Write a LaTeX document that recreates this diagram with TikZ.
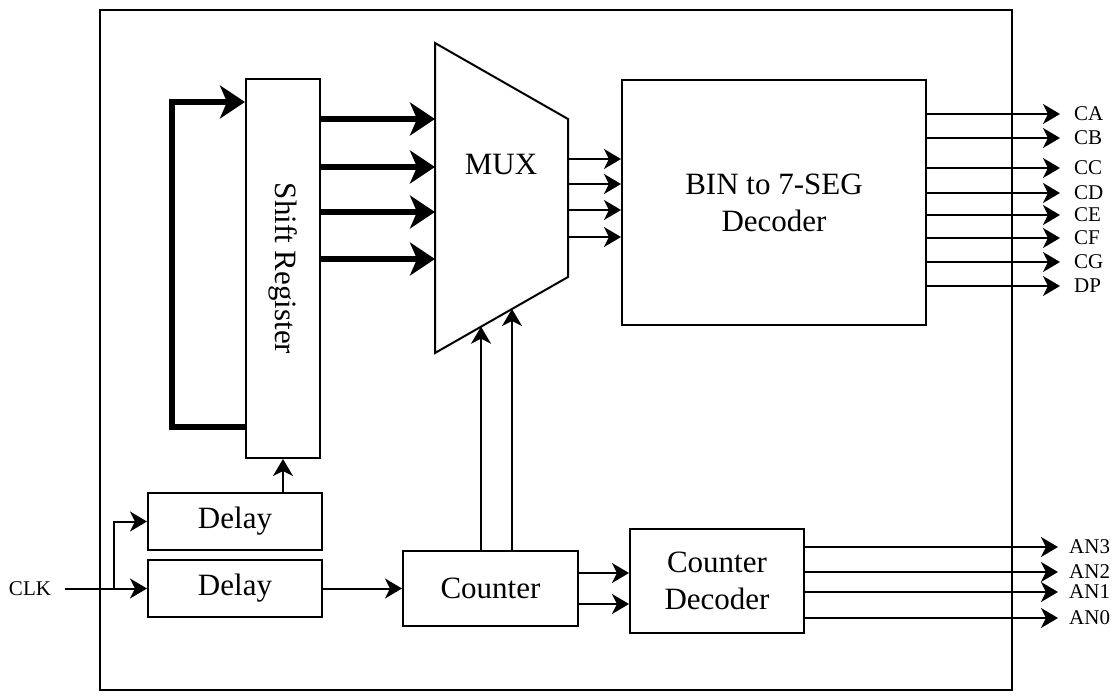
\documentclass[tikz,border=0pt]{standalone}
\usepackage{fontspec}
\setmainfont{Liberation Serif}
\usetikzlibrary{calc,arrows.meta}
\newcommand{\blkfont}{\fontsize{31}{37}\selectfont}
\newcommand{\lblfont}{\fontsize{21}{23}\selectfont}

\begin{document}
\begin{tikzpicture}[x=1pt,y=-1pt,
  blk/.style={draw,line width=2pt,inner sep=0pt,align=center,font=\blkfont},
  sig/.style={line width=2pt,-{Stealth[length=17pt,width=20pt,inset=5pt]}},
  bus/.style={line width=5.5pt,-{Stealth[length=25pt,width=33pt,inset=7pt]}},
  lbl/.style={anchor=west,inner xsep=14pt,inner ysep=0pt,font=\lblfont}]
\useasboundingbox (0,0) rectangle (1117,698);
\draw[line width=2pt] (100,10) rectangle (1012,690);

% blocks
\node[blk,minimum width=74pt,minimum height=379pt] (sr) at (283,268.5) {};
\node[rotate=-90,font=\blkfont] at (sr.center) {Shift Register};
\coordinate (mux-tl) at (435,43);
\coordinate (mux-tr) at (568,119);
\coordinate (mux-br) at (568,277);
\coordinate (mux-bl) at (435,353);
\draw[line width=2pt] (mux-tl) -- (mux-tr) -- (mux-br) -- (mux-bl) -- cycle;
\node[font=\blkfont] (mux) at (501,165) {MUX};
\node[blk,minimum width=304pt,minimum height=245pt] (dec) at (774,202.5) {BIN to 7-SEG\\Decoder};
\node[blk,minimum width=174pt,minimum height=57pt] (dl1) at (235,521.5) {Delay};
\node[blk,minimum width=174pt,minimum height=57pt] (dl2) at (235,588.5) {Delay};
\node[blk,minimum width=175pt,minimum height=75pt] (cnt) at (490.5,588.5) {Counter};
\node[blk,minimum width=174pt,minimum height=104pt] (cdec) at (717,581) {Counter\\Decoder};

% feedback of the shift register
\draw[bus] (sr.west |- 0,427) -- (172,427) -- (172,102) -- (sr.west |- 0,102);
\draw[bus] (sr.east |- 0,119) -- (mux-tl |- 0,119);
\draw[bus] (sr.east |- 0,167) -- (mux-tl |- 0,167);
\draw[bus] (sr.east |- 0,212) -- (mux-tl |- 0,212);
\draw[bus] (sr.east |- 0,259) -- (mux-tl |- 0,259);

% mux to decoder
\draw[sig] (mux-tr |- 0,159) -- (dec.west |- 0,159);
\draw[sig] (mux-tr |- 0,184) -- (dec.west |- 0,184);
\draw[sig] (mux-tr |- 0,210) -- (dec.west |- 0,210);
\draw[sig] (mux-tr |- 0,237) -- (dec.west |- 0,237);

% segment outputs
\node[lbl] (ca) at (1060,114) {CA};
\node[lbl] (cb) at (1060,138) {CB};
\node[lbl] (cc) at (1060,168) {CC};
\node[lbl] (cd) at (1060,193) {CD};
\node[lbl] (ce) at (1060,215) {CE};
\node[lbl] (cf) at (1060,238) {CF};
\node[lbl] (cg) at (1060,262) {CG};
\node[lbl] (dp) at (1060,286) {DP};
\draw[sig] (dec.east |- ca.west) -- (ca.west);
\draw[sig] (dec.east |- cb.west) -- (cb.west);
\draw[sig] (dec.east |- cc.west) -- (cc.west);
\draw[sig] (dec.east |- cd.west) -- (cd.west);
\draw[sig] (dec.east |- ce.west) -- (ce.west);
\draw[sig] (dec.east |- cf.west) -- (cf.west);
\draw[sig] (dec.east |- cg.west) -- (cg.west);
\draw[sig] (dec.east |- dp.west) -- (dp.west);

% clock and delays
\node[font=\lblfont,inner xsep=14pt] (clk) at (30,588.5) {CLK};
\coordinate (split) at (114,588.5);
\draw[sig] (clk.east) -- (dl2.west);
\draw[sig] (split) |- (dl1.west);
\draw[sig] (sr.south |- dl1.north) -- (sr.south);
\draw[sig] (dl2.east) -- (cnt.west);

% counter selects the mux
\coordinate (sel0) at ($(mux-bl)!0.346!(mux-br)$);
\coordinate (sel1) at ($(mux-bl)!0.579!(mux-br)$);
\draw[sig] (cnt.north -| sel0) -- (sel0);
\draw[sig] (cnt.north -| sel1) -- (sel1);
\draw[sig] (cnt.east |- 0,573) -- (cdec.west |- 0,573);
\draw[sig] (cnt.east |- 0,604) -- (cdec.west |- 0,604);

% anode outputs
\node[lbl,inner xsep=11pt] (an3) at (1058,547) {AN3};
\node[lbl,inner xsep=11pt] (an2) at (1058,572) {AN2};
\node[lbl,inner xsep=11pt] (an1) at (1058,592) {AN1};
\node[lbl,inner xsep=11pt] (an0) at (1058,618) {AN0};
\draw[sig] (cdec.east |- an3.west) -- (an3.west);
\draw[sig] (cdec.east |- an2.west) -- (an2.west);
\draw[sig] (cdec.east |- an1.west) -- (an1.west);
\draw[sig] (cdec.east |- an0.west) -- (an0.west);
\end{tikzpicture}
\end{document}
